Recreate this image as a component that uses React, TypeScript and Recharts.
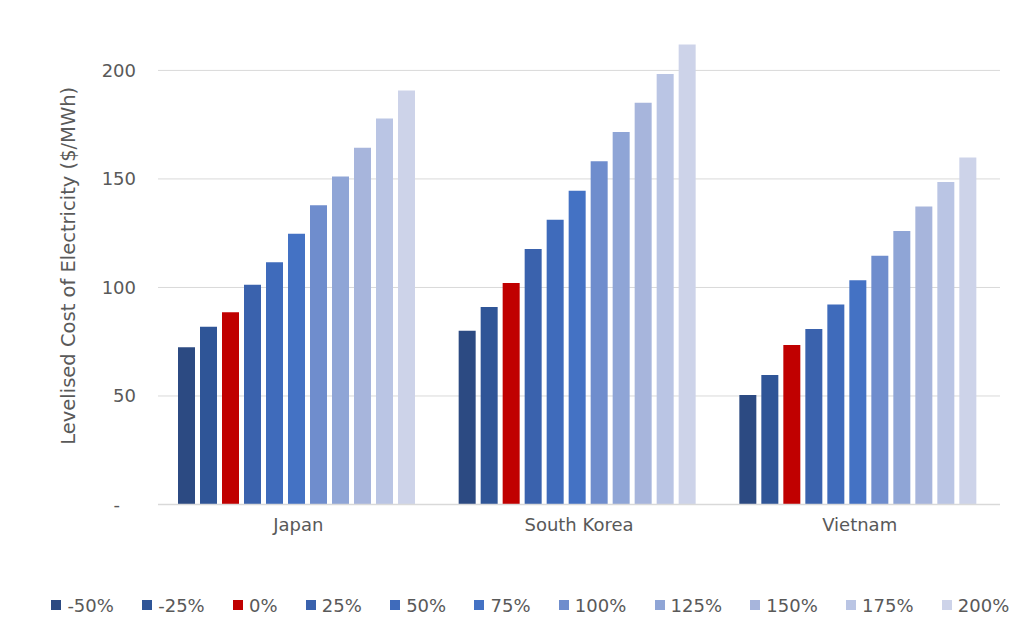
import React from 'react';
import { BarChart, Bar, XAxis, YAxis, CartesianGrid, Legend } from 'recharts';

const categories = ['Japan', 'South Korea', 'Vietnam'];
const seriesNames = ['-50%', '-25%', '0%', '25%', '50%', '75%', '100%', '125%', '150%', '175%', '200%'];
const japan = [72.4, 81.9, 88.6, 101.2, 111.6, 124.8, 137.9, 151.1, 164.4, 177.8, 190.7];
const southKorea = [80, 91, 102, 117.7, 131.2, 144.5, 158.1, 171.6, 185.1, 198.4, 211.9];
const vietnam = [50.5, 59.7, 73.5, 80.9, 92.2, 103.3, 114.6, 126, 137.3, 148.6, 159.9];
const colors = ['#2C4A82', '#2F5597', '#C00000', '#3A62AD', '#3F6BBB', '#4472C4', '#6F8DCD', '#8FA5D6', '#A7B5DC', '#BAC5E4', '#CDD3E9'];
const yTicks = [0, 50, 100, 150, 200];
const gridValues = [50, 100, 150, 200];

const seriesByCategory = [japan, southKorea, vietnam];
const data = categories.map((c, ci) => {
  const row: Record<string, string | number> = { category: c };
  seriesNames.forEach((s, si) => {
    row[s] = seriesByCategory[ci][si];
  });
  return row;
});

const FONT = '"DejaVu Sans", sans-serif';
const TEXT = '#595959';

const YTick = (props: any) => {
  const { x, y, payload } = props;
  const isZero = payload.value === 0;
  return (
    <text
      x={isZero ? x - 16 : x}
      y={y}
      dy="0.35em"
      textAnchor="end"
      fill={TEXT}
      fontSize={18}
      fontFamily={FONT}
    >
      {isZero ? '-' : payload.value}
    </text>
  );
};

const LegendContent = (props: any) => {
  const payload = [...(props.payload || [])].sort(
    (a: any, b: any) => seriesNames.indexOf(a.value) - seriesNames.indexOf(b.value)
  );
  return (
    <div
      style={{
        display: 'flex',
        justifyContent: 'center',
        alignItems: 'center',
        height: 30,
        fontFamily: FONT,
        fontSize: 18,
        color: TEXT,
        paddingLeft: 65,
      }}
    >
      {payload.map((p: any) => (
        <div key={p.value} style={{ display: 'flex', alignItems: 'center', marginRight: 28.3 }}>
          <span style={{ width: 10, height: 10, background: p.color, display: 'inline-block', marginRight: 6 }} />
          <span>{p.value}</span>
        </div>
      ))}
    </div>
  );
};

export default function App() {
  return (
    <div style={{ position: 'absolute', left: 0, top: 0, width: 1024, height: 625, background: '#fff' }}>
      <BarChart
        width={1024}
        height={625}
        data={data}
        margin={{ top: 27, right: 24, left: 58, bottom: 50.5 }}
        barCategoryGap={20}
        barGap={5}
      >
        <CartesianGrid horizontal vertical={false} stroke="#D9D9D9" horizontalValues={gridValues} />
        <XAxis
          dataKey="category"
          height={40}
          tickSize={0}
          tickMargin={14}
          axisLine={{ stroke: '#D9D9D9', strokeWidth: 1.5 }}
          tickLine={false}
          tick={{ fill: TEXT, fontSize: 18, fontFamily: FONT }}
        />
        <YAxis
          width={100}
          domain={[0, 220]}
          ticks={yTicks}
          axisLine={false}
          tickLine={false}
          tickSize={0}
          tickMargin={22}
          tick={<YTick />}
          label={{
            value: 'Levelised Cost of Electricity ($/MWh)',
            angle: -90,
            position: 'insideLeft',
            offset: 10,
            style: { textAnchor: 'middle', fill: TEXT, fontSize: 19.5, fontFamily: FONT },
          }}
        />
        <Legend
          verticalAlign="bottom"
          content={<LegendContent />}
          wrapperStyle={{ top: 590, left: 0, width: 1024, height: 30 }}
        />
        {seriesNames.map((s, i) => (
          <Bar key={s} dataKey={s} name={s} fill={colors[i]} isAnimationActive={false} />
        ))}
      </BarChart>
    </div>
  );
}
